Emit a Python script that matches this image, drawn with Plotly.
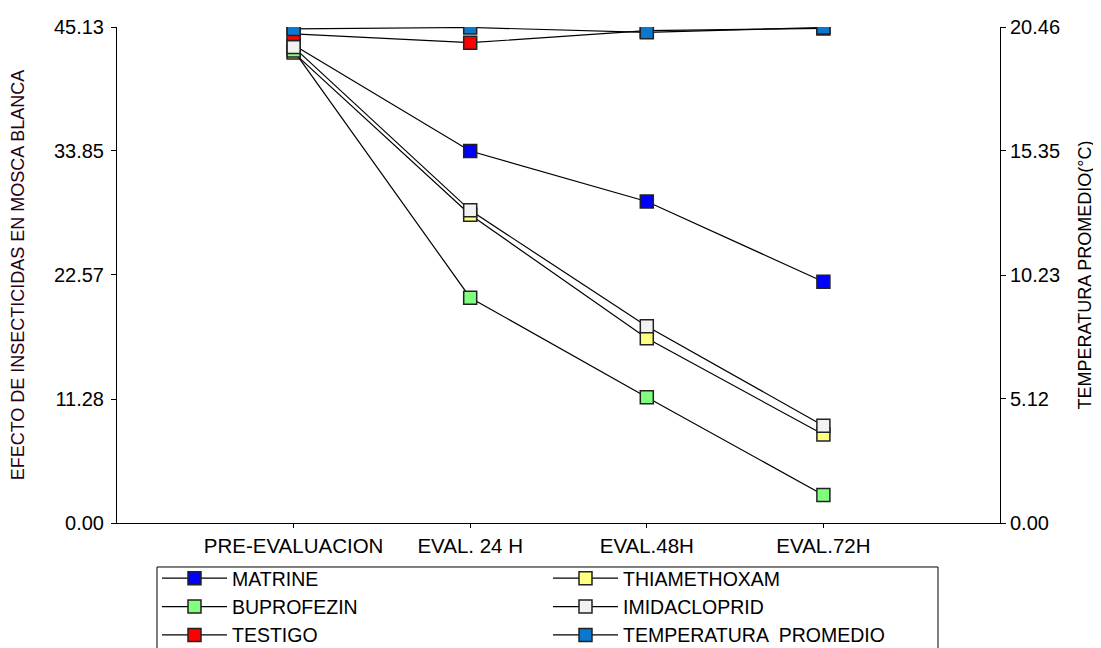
import plotly.graph_objects as go

categories = ["PRE-EVALUACION", "EVAL. 24 H", "EVAL.48H", "EVAL.72H"]

matrine = [43.5, 33.85, 29.25, 21.95]
thiamethoxam = [42.8, 28.05, 16.8, 8.05]
buprofezin = [43.0, 20.5, 11.45, 2.55]
imidacloprid = [43.3, 28.45, 17.9, 8.85]
testigo = [44.5, 43.7, 44.8, 45.0]
temperatura = [20.38, 20.44, 20.24, 20.44]

left_ticks = [0.00, 11.28, 22.57, 33.85, 45.13]
right_ticks = [0.00, 5.12, 10.23, 15.35, 20.46]

series = [
    ("MATRINE", matrine, "#0000FF", "y"),
    ("THIAMETHOXAM", thiamethoxam, "#FFFF80", "y"),
    ("BUPROFEZIN", buprofezin, "#80FF80", "y"),
    ("IMIDACLOPRID", imidacloprid, "#F2F2F2", "y"),
    ("TESTIGO", testigo, "#FF0000", "y"),
    ("TEMPERATURA  PROMEDIO", temperatura, "#0A78CC", "y2"),
]

FONT = "Liberation Sans, Arial, sans-serif"

fig = go.Figure()
for name, vals, color, ax in series:
    fig.add_trace(go.Scatter(
        x=categories, y=vals, name=name, yaxis=ax,
        mode="lines+markers",
        line=dict(color="black", width=1.2),
        marker=dict(symbol="square", size=13, color=color,
                    line=dict(color="#222222", width=1.5)),
    ))

# legend frame (bottom edge falls below the visible page, as in the reference)
fig.add_shape(type="rect", xref="paper", yref="paper",
              x0=0.0453, x1=0.9298, y0=-0.0887, y1=-0.40,
              line=dict(color="black", width=1), fillcolor="white", layer="below")

fig.update_layout(
    width=1093, height=640,
    margin=dict(l=109, r=101, t=19, b=125, autoexpand=False),
    paper_bgcolor="white", plot_bgcolor="white",
    font=dict(family=FONT, size=19, color="black"),
    showlegend=True,
    legend=dict(
        orientation="h", x=0.0453, xanchor="left", y=-0.0726, yanchor="top",
        borderwidth=0, bgcolor="rgba(0,0,0,0)",
        entrywidth=311, entrywidthmode="pixels", itemwidth=65,
        font=dict(family=FONT, size=19.5, color="black"),
        traceorder="normal",
    ),
    xaxis=dict(
        type="category", range=[-1, 4], showgrid=False, zeroline=False,
        showline=True, linecolor="black", linewidth=1,
        ticks="outside", ticklen=4, tickcolor="black",
        tickfont=dict(size=20.5),
    ),
    yaxis=dict(
        range=[0, 45.13], tickvals=left_ticks,
        ticktext=[f"{v:.2f}" for v in left_ticks],
        showgrid=False, zeroline=False,
        showline=True, linecolor="black", linewidth=1,
        ticks="outside", ticklen=5, tickcolor="black",
        tickfont=dict(size=20), ticklabelstandoff=3,
        title=dict(text="EFECTO DE INSECTICIDAS EN MOSCA BLANCA",
                   font=dict(size=18, color="#2a0014"), standoff=24),
    ),
    yaxis2=dict(
        range=[0, 20.46], tickvals=right_ticks,
        ticktext=[f"{v:.2f}" for v in right_ticks],
        overlaying="y", side="right", anchor="x",
        showgrid=False, zeroline=False,
        showline=True, linecolor="black", linewidth=1,
        ticks="outside", ticklen=5, tickcolor="black",
        tickfont=dict(size=20),
        title=dict(text="TEMPERATURA PROMEDIO(°C)",
                   font=dict(size=18, color="black"), standoff=19),
    ),
)

fig.write_html("out.html")
